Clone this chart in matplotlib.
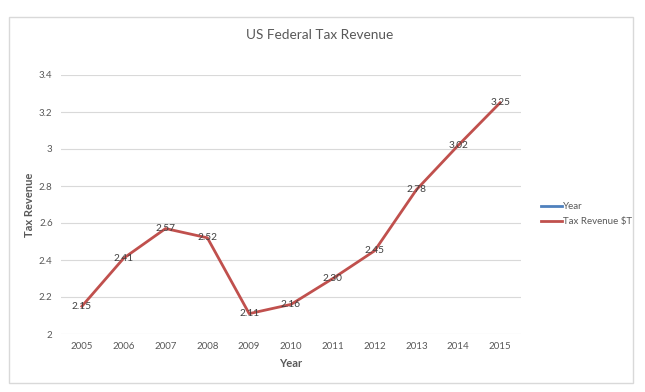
import matplotlib.pyplot as plt
from matplotlib.patches import Rectangle
from matplotlib.lines import Line2D

plt.rcParams['font.family'] = ['Lato', 'DejaVu Sans']

# data
years = ['2005', '2006', '2007', '2008', '2009', '2010', '2011', '2012', '2013', '2014', '2015']
revenue = [2.15, 2.41, 2.57, 2.52, 2.11, 2.16, 2.30, 2.45, 2.78, 3.02, 3.25]
labels = ['2.15', '2.41', '2.57', '2.52', '2.11', '2.16', '2.30', '2.45', '2.78', '3.02', '3.25']
yticks = [2, 2.2, 2.4, 2.6, 2.8, 3, 3.2, 3.4]
ytick_labels = ['2', '2.2', '2.4', '2.6', '2.8', '3', '3.2', '3.4']

fig = plt.figure(figsize=(6.45, 3.92), dpi=100)
fig.patches.append(Rectangle((9 / 645, 1 - 383 / 392), 624 / 645, 366 / 392,
                             transform=fig.transFigure, fill=False,
                             edgecolor='#d9d9d9', linewidth=1))

ax = fig.add_axes([61 / 645, 1 - 334 / 392, 460 / 645, 259 / 392])
x = list(range(len(years)))
red = '#c0504d'
blue = '#4f81bd'
ax.plot(x, revenue, color=red, linewidth=2, solid_joinstyle='round')
for xi, v, t in zip(x, revenue, labels):
    ax.text(xi, v, t, ha='center', va='center', fontsize=7.3, color='#404040')

ax.set_xlim(-0.5, len(years) - 0.5)
ax.set_ylim(2, 3.4)
ax.set_xticks(x)
ax.set_xticklabels(years)
ax.set_yticks(yticks)
ax.set_yticklabels(ytick_labels)
ax.tick_params(length=0, labelsize=7, colors='#595959', pad=6)
ax.grid(axis='y', color='#d9d9d9', linewidth=0.8)
ax.set_axisbelow(True)
for s in ax.spines.values():
    s.set_visible(False)

ax.set_xlabel('Year', fontsize=8, fontweight='bold', color='#595959', labelpad=5)
ax.set_ylabel('Tax Revenue', fontsize=8, fontweight='bold', color='#595959', labelpad=3)
fig.text(320 / 645, 1 - 35 / 392, 'US Federal Tax Revenue', ha='center', va='center',
         fontsize=9.8, color='#595959')

handles = [Line2D([], [], color=blue, linewidth=2), Line2D([], [], color=red, linewidth=2)]
fig.legend(handles, ['Year', 'Tax Revenue $T'], loc='center left',
           bbox_to_anchor=(532 / 645, 1 - 214 / 392), frameon=False, fontsize=7,
           handlelength=2.2, handletextpad=0.1, labelspacing=0.6, labelcolor='#595959')

fig.savefig('out.png', dpi=100)
